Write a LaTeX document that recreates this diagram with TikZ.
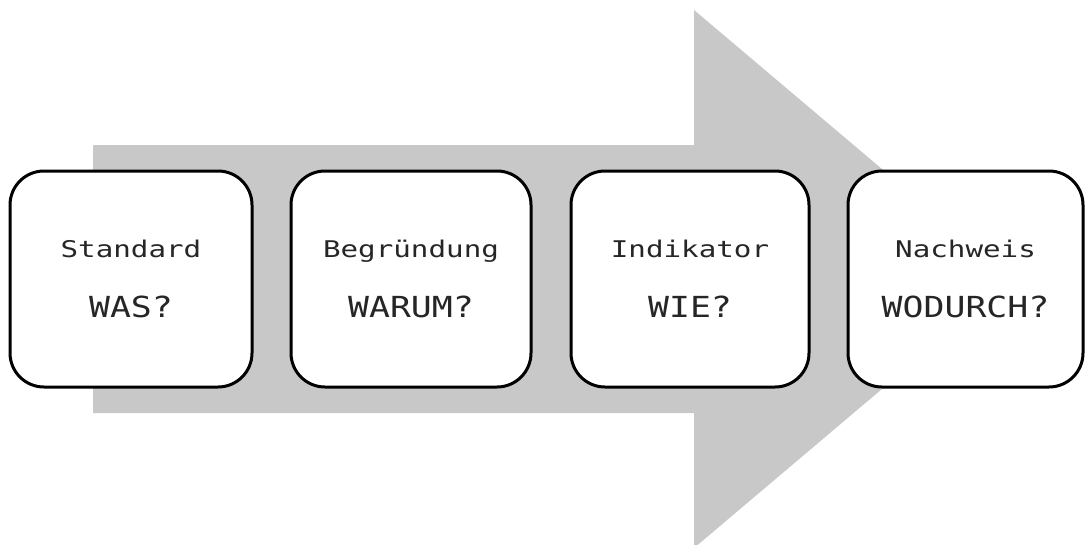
\documentclass[tikz,border=0pt]{standalone}
\usepackage{fontspec}
\newfontfamily\linea[FakeStretch=1.27]{DejaVu Sans Mono}
\newfontfamily\lineb[FakeStretch=1.2]{DejaVu Sans Mono}
\definecolor{arrowgray}{RGB}{200,200,200}
\definecolor{txtgray}{RGB}{38,38,38}
\tikzset{
  stepbox/.style={draw=black, line width=3pt, fill=white, rounded corners=34pt, inner sep=0pt},
  topline/.style={anchor=base, inner sep=0pt, text=txtgray, font=\linea\fontsize{23}{23}\selectfont},
  botline/.style={anchor=base, inner sep=0pt, text=txtgray, font=\lineb\fontsize{29}{29}\selectfont},
}
\begin{document}
\begin{tikzpicture}[x=1pt,y=1pt]
\useasboundingbox (0,0) rectangle (1087,-544);
\fill[arrowgray] (93,-145) -- (694,-145) -- (694,-10) -- (1012,-279) -- (694,-548) -- (694,-413) -- (93,-413) -- cycle;
\node[stepbox, minimum width=242pt, minimum height=216pt] (b1) at (131,-279) {};
\node[stepbox, minimum width=240pt, minimum height=216pt] (b2) at (411,-279) {};
\node[stepbox, minimum width=238pt, minimum height=216pt] (b3) at (690,-279) {};
\node[stepbox, minimum width=235pt, minimum height=216pt] (b4) at (965.5,-279) {};
\node[topline] (t1) at ([yshift=22pt]b1.center) {Standard};
\node[botline] (u1) at ([yshift=-38pt]b1.center) {WAS?};
\node[topline] (t2) at ([yshift=22pt]b2.center) {Begründung};
\node[botline] (u2) at ([yshift=-38pt]b2.center) {WARUM?};
\node[topline] (t3) at ([yshift=22pt]b3.center) {Indikator};
\node[botline] (u3) at ([yshift=-38pt]b3.center) {WIE?};
\node[topline] (t4) at ([yshift=22pt]b4.center) {Nachweis};
\node[botline] (u4) at ([yshift=-38pt]b4.center) {WODURCH?};
\end{tikzpicture}
\end{document}
